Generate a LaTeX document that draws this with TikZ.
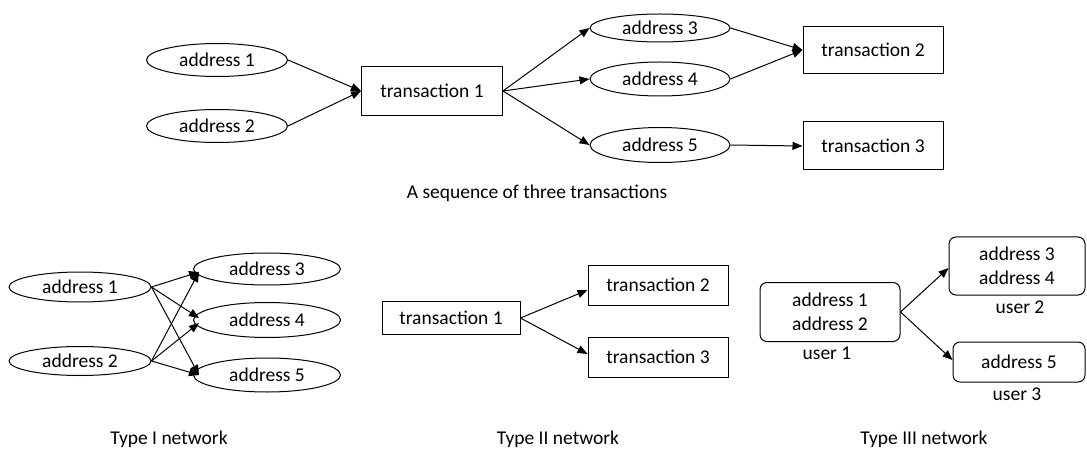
\documentclass[tikz,border=0pt]{standalone}
\usepackage{fontspec}
\setmainfont{Carlito}
\usetikzlibrary{arrows.meta,shapes.geometric,calc}
\tikzset{
  every node/.style={font=\fontsize{19.5}{24}\selectfont, inner sep=0pt},
  addr/.style={draw, ellipse, line width=1pt},
  txbox/.style={draw, rectangle, line width=1pt},
  userbox/.style={draw, rectangle, rounded corners=7pt, line width=1pt, align=center},
  lbl/.style={},
  arr/.style={-{Triangle[length=10pt,width=8pt]}, line width=1pt},
}
\begin{document}
\begin{tikzpicture}[x=1pt,y=-1pt]
\useasboundingbox (0,0) rectangle (1087,449);
% top sequence
\node[addr, minimum width=141, minimum height=33] (a1) at (217,60) {address 1};
\node[addr, minimum width=141, minimum height=33] (a2) at (217,126) {address 2};
\node[txbox, minimum width=141, minimum height=49] (tx1) at (432,91) {transaction 1};
\node[addr, minimum width=140, minimum height=28] (a3) at (660,28) {address 3};
\node[addr, minimum width=140, minimum height=34] (a4) at (660,79) {address 4};
\node[addr, minimum width=140, minimum height=35] (a5) at (660,145) {address 5};
\node[txbox, minimum width=140, minimum height=47] (tx2) at (873,50) {transaction 2};
\node[txbox, minimum width=140, minimum height=48] (tx3) at (873,146) {transaction 3};
\draw[arr] (a1.east) -- (tx1.west);
\draw[arr] (a2.east) -- (tx1.west);
\draw[arr] (tx1.east) -- (a3.west);
\draw[arr] (tx1.east) -- (a4.west);
\draw[arr] (tx1.east) -- (a5.west);
\draw[arr] (a3.east) -- (tx2.west);
\draw[arr] (a4.east) -- (tx2.west);
\draw[arr] (a5.east) -- (tx3.west);
\node[lbl] (cap0) at (537,193) {A sequence of three transactions};
% Type I
\node[addr, minimum width=142, minimum height=30] (b1) at (80,287) {address 1};
\node[addr, minimum width=142, minimum height=29] (b2) at (80,361) {address 2};
\node[addr, minimum width=147, minimum height=32] (b3) at (267,269) {address 3};
\node[addr, minimum width=147, minimum height=35] (b4) at (267,320) {address 4};
\node[addr, minimum width=147, minimum height=34] (b5) at (267,375) {address 5};
\coordinate (p3) at ($(b3.west)+(6,3)$);
\coordinate (p4a) at ($(b4.west)+(6,-2)$);
\coordinate (p4b) at ($(b4.west)+(6,3)$);
\coordinate (p5) at ($(b5.west)+(6,0)$);
\draw[arr] (b1.east) -- (p3);
\draw[arr] (b1.east) -- (p4a);
\draw[arr] (b1.east) -- (p5);
\draw[arr] (b2.east) -- (p3);
\draw[arr] (b2.east) -- (p4b);
\draw[arr] (b2.east) -- (p5);
\node[lbl] (cap1) at (169,439) {Type I network};
% Type II
\node[txbox, minimum width=138, minimum height=33] (c1) at (451,318) {transaction 1};
\node[txbox, minimum width=140, minimum height=40] (c2) at (658,285) {transaction 2};
\node[txbox, minimum width=140, minimum height=40] (c3) at (658,357) {transaction 3};
\draw[arr] (c1.east) -- ($(c2.west)+(0,5)$);
\draw[arr] (c1.east) -- ($(c3.west)+(0,-3)$);
\node[lbl] (cap2) at (558,439) {Type II network};
% Type III
\node[userbox, minimum width=140, minimum height=59] (u1) at (830,312) {address 1\\address 2};
\node[userbox, minimum width=136, minimum height=58] (u2) at (1017,266) {address 3\\address 4};
\node[userbox, minimum width=132, minimum height=40] (u3) at (1019,362) {address 5};
\node[lbl] (l1) at (827,353) {user 1};
\node[lbl] (l2) at (1020,307) {user 2};
\node[lbl] (l3) at (1017,394) {user 3};
\draw[arr] (u1.east) -- ($(u2.west)+(0,2)$);
\draw[arr] (u1.east) -- ($(u3.west)+(0,-2)$);
\node[lbl] (cap3) at (924,439) {Type III network};
\end{tikzpicture}
\end{document}
